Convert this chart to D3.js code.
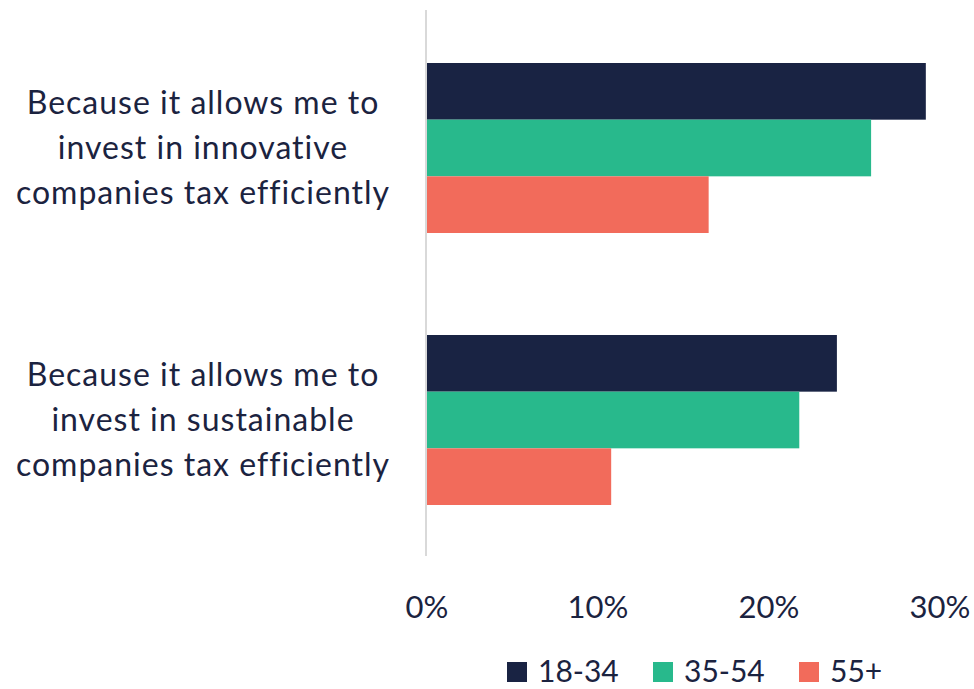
<!DOCTYPE html>
<html>
<head>
<meta charset="utf-8">
<script src="https://cdn.jsdelivr.net/npm/d3@7"></script>
<style>
  body { margin: 0; background: #ffffff; }
  svg { display: block; }
  text { font-family: Lato, "Open Sans", sans-serif; fill: #1b2340; font-variant-ligatures: none; }
</style>
</head>
<body>
<svg id="chart" width="974" height="689"></svg>
<script>
// Survey reasons, one label per category (wrapped into lines below)
const categories = [
  "Because it allows me to invest in innovative companies tax efficiently",
  "Because it allows me to invest in sustainable companies tax efficiently"
];
const categoryLines = [
  ["Because it allows me to", "invest in innovative", "companies tax efficiently"],
  ["Because it allows me to", "invest in sustainable", "companies tax efficiently"]
];

// Age groups and their shares (%)
const seriesNames = ["18-34", "35-54", "55+"];
const values1834 = [29.2, 24.0];
const values3554 = [26.0, 21.8];
const values55 = [16.5, 10.8];
const seriesColors = ["#192343", "#28b98c", "#f26b5b"];

const tickValues = [0, 10, 20, 30];
const tickLabels = ["0%", "10%", "20%", "30%"];

const seriesValues = [values1834, values3554, values55];
const rows = categories.map((c, i) => ({
  category: c,
  lines: categoryLines[i],
  values: seriesNames.map((s, j) => ({ series: s, value: seriesValues[j][i], color: seriesColors[j] }))
}));

const svg = d3.select("#chart");

const x = d3.scaleLinear().domain([0, 30]).range([426.5, 939.5]);
const y = d3.scaleBand().domain(categories).range([12, 556]).paddingInner(0.375).paddingOuter(0.1875);
const ySub = d3.scaleBand().domain(seriesNames).range([0, y.bandwidth()]);

// Bars
const groups = svg.append("g").selectAll("g")
  .data(rows)
  .join("g")
  .attr("transform", d => `translate(0,${y(d.category)})`);

groups.selectAll("rect")
  .data(d => d.values)
  .join("rect")
  .attr("x", x(0))
  .attr("y", d => ySub(d.series))
  .attr("width", d => x(d.value) - x(0))
  .attr("height", ySub.bandwidth())
  .attr("fill", d => d.color);

// Vertical category axis line
const yAxis = d3.axisLeft(y).tickSize(0).tickFormat("");
const yAxisG = svg.append("g")
  .attr("transform", `translate(${x(0) - 0.5},0)`)
  .call(yAxis);
yAxisG.select(".domain").attr("stroke", "#d9d9d9").attr("stroke-width", 2)
  .attr("d", `M0,10V556`);

// Category labels, centred and wrapped
svg.append("g").selectAll("text")
  .data(rows)
  .join("text")
  .attr("text-anchor", "middle")
  .attr("font-size", 32)
  .attr("letter-spacing", 1)
  .attr("transform", d => `translate(203,${y(d.category) + y.bandwidth() / 2})`)
  .selectAll("tspan")
  .data(d => d.lines)
  .join("tspan")
  .attr("x", 0)
  .attr("y", (d, i) => (i - 1) * 45)
  .attr("dy", "0.35em")
  .text(d => d);

// Value axis labels
const xAxis = d3.axisBottom(x).tickValues(tickValues).tickSize(0)
  .tickFormat((d, i) => tickLabels[i]);
const xAxisG = svg.append("g")
  .attr("transform", "translate(0,590)")
  .call(xAxis);
xAxisG.select(".domain").remove();
xAxisG.selectAll("text")
  .attr("font-size", 31)
  .attr("font-family", "Lato, 'Open Sans', sans-serif")
  .attr("fill", "#1b2340")
  .attr("dy", "0.35em")
  .attr("y", 17);

// Legend
const legendX = [507, 653, 799];
const legend = svg.append("g").selectAll("g")
  .data(seriesNames)
  .join("g")
  .attr("transform", (d, i) => `translate(${legendX[i]},662)`);
legend.append("rect")
  .attr("width", 20).attr("height", 20)
  .attr("fill", (d, i) => seriesColors[i]);
legend.append("text")
  .attr("x", 31).attr("y", 9).attr("dy", "0.35em")
  .attr("font-size", 30)
  .text(d => d);
</script>
</body>
</html>
